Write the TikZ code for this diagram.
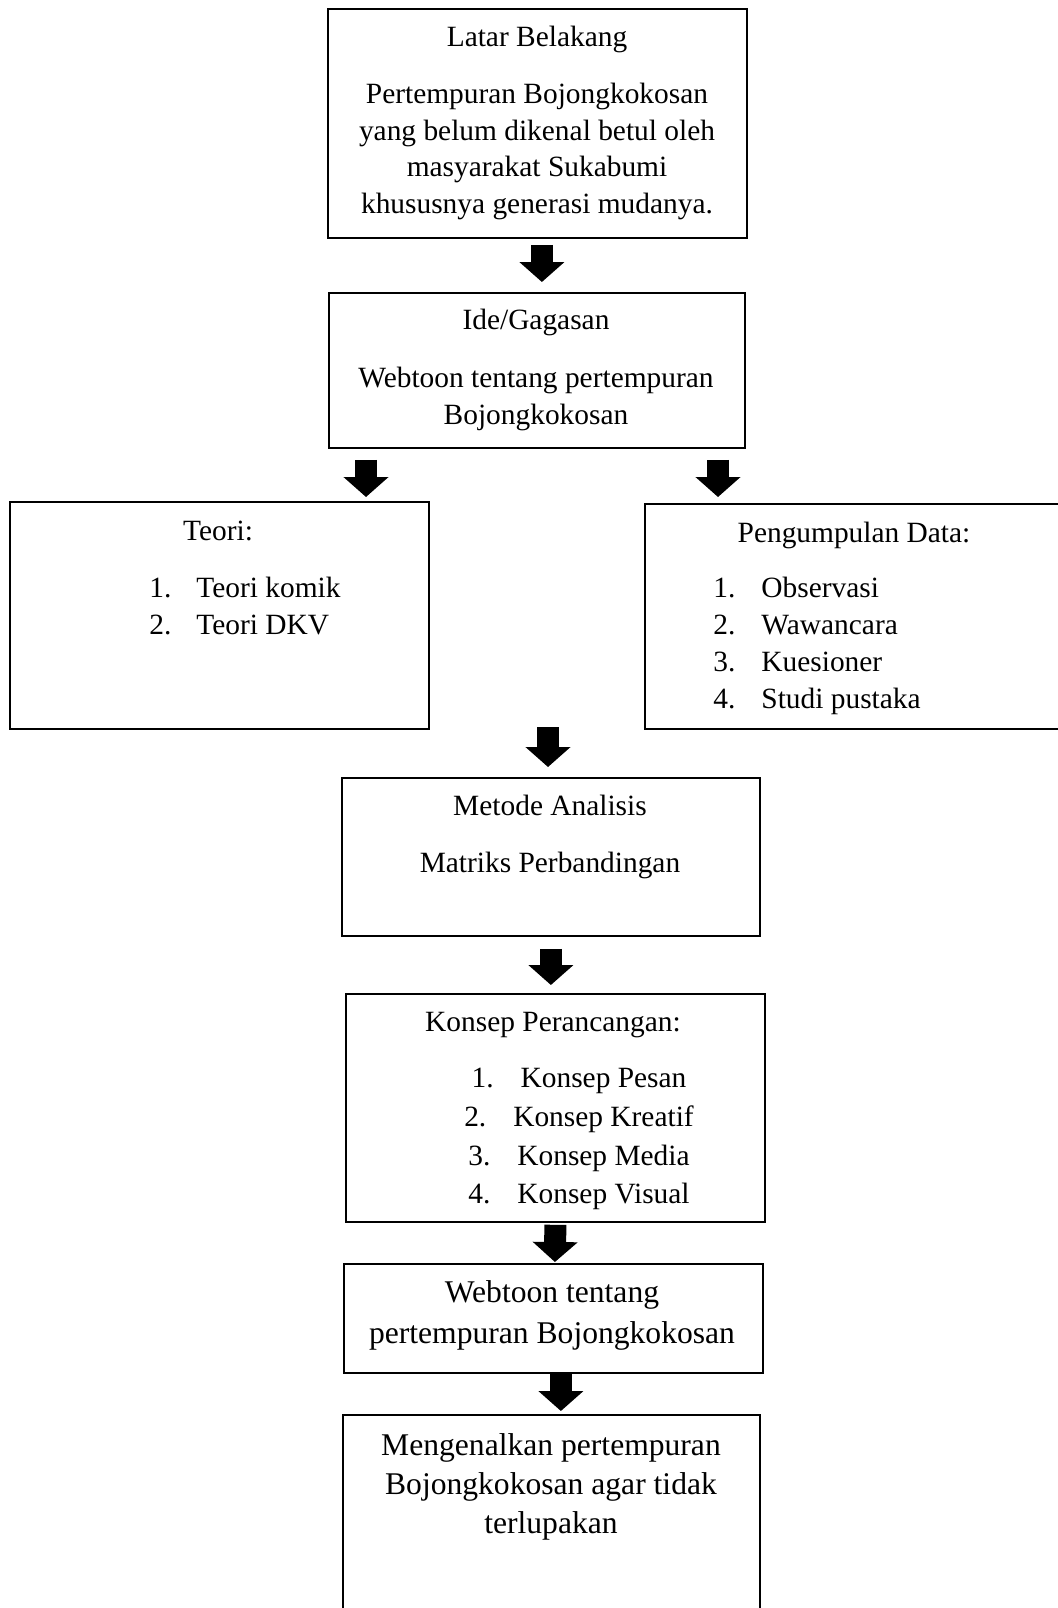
\documentclass[tikz,border=0pt]{standalone}
\usepackage{fontspec}
\setmainfont{Liberation Serif}
\usetikzlibrary{arrows.meta,positioning,calc}
\tikzset{kotak/.style={draw=black,line width=0.9pt,inner sep=0pt,anchor=north west}}

\begin{document}
\begin{tikzpicture}[x=0.5pt, y=-0.5pt,
        panah/.style={line width=11pt,-{Triangle[width=22pt,length=10pt]}},
        teks/.style={inner sep=0pt,anchor=north,align=center,font=\fontsize{14.7}{18.25}\selectfont},
        teksbesar/.style={teks,font=\fontsize{15.8}{20}\selectfont},
        daftar/.style={inner sep=0pt,anchor=north west,align=left,font=\fontsize{14.7}{18.4}\selectfont}]
        \useasboundingbox (0,0) rectangle (1057,1608);
        % kotak
        \node[kotak,minimum width=209.5pt,minimum height=114.5pt] (latar) at (327,8) {};
        \node[kotak,minimum width=208pt,minimum height=77.5pt] (ide) at (328,292) {};
        \node[kotak,minimum width=209.5pt,minimum height=113.5pt] (teori) at (9,501) {};
        \node[kotak,minimum width=209.5pt,minimum height=112.5pt] (data) at (644,503) {};
        \node[kotak,minimum width=209pt,minimum height=79pt] (metode) at (341,777) {};
        \node[kotak,minimum width=209.5pt,minimum height=114pt] (konsep) at (345,993) {};
        \node[kotak,minimum width=209.5pt,minimum height=54.5pt] (webtoon) at (343,1263) {};
        \node[kotak,minimum width=208.5pt,minimum height=110pt] (akhir) at (342,1414) {};
        % isi
        \node[teks] (latarisi) at (537,26) {Latar Belakang\\[10.25pt]Pertempuran Bojongkokosan\\yang belum dikenal betul oleh\\masyarakat Sukabumi\\khususnya generasi mudanya.};
        \node[teks] (ideisi) at (536,309) {Ide/Gagasan\\[10.75pt]Webtoon tentang pertempuran\\Bojongkokosan};
        \node[teks] (teorijudul) at (218,521) {Teori:};
        \node[daftar] (teoriisi) at (149,577) {1.\hspace{12.5pt}Teori komik\\2.\hspace{12.5pt}Teori DKV};
        \node[teks] (datajudul) at (854,522) {Pengumpulan Data:};
        \node[daftar] (dataisi) at (713,577) {1.\hspace{13pt}Observasi\\2.\hspace{13pt}Wawancara\\3.\hspace{13pt}Kuesioner\\4.\hspace{13pt}Studi pustaka};
        \node[teks] (metodeisi) at (550,795) {Metode Analisis\\[10.25pt]Matriks Perbandingan};
        \node[teks] (konsepjudul) at (553,1012) {Konsep Perancangan:};
        \node[teks,font=\fontsize{14.7}{19.35}\selectfont] (konsepisi) at (579,1068) {1.\hspace{13.5pt}Konsep Pesan\\2.\hspace{13.5pt}Konsep Kreatif\\3.\hspace{13.5pt}Konsep Media\\4.\hspace{13.5pt}Konsep Visual};
        \node[teksbesar,font=\fontsize{15.8}{20.5}\selectfont] (webtoonisi) at (552,1280) {Webtoon tentang\\pertempuran Bojongkokosan};
        \node[teksbesar,font=\fontsize{15.8}{19.5}\selectfont] (akhirisi) at (551,1433) {Mengenalkan pertempuran\\Bojongkokosan agar tidak\\terlupakan};
        % panah
        \coordinate (kiri) at (366,0);
        \coordinate (kanan) at (718,0);
        \coordinate (gabung) at (548,727);
        \draw[panah,shorten <=3pt,shorten >=5pt] ([xshift=2.25pt]latar.south) -- ([xshift=2.5pt]ide.north);
        \draw[panah,shorten <=5.5pt,shorten >=2pt] (ide.south -| kiri) -- (teori.north -| kiri);
        \draw[panah,shorten <=5.5pt,shorten >=3pt] (ide.south -| kanan) -- (data.north -| kanan);
        \draw[panah,shorten >=5pt] (gabung) -- (gabung |- metode.north);
        \draw[panah,shorten <=6pt,shorten >=4pt] (metode.south) -- ([xshift=-2.25pt]konsep.north);
        \draw[panah,shorten <=1pt,shorten >=0.5pt] (konsep.south) -- ([xshift=0.75pt]webtoon.north);
        \draw[panah,shorten >=1.5pt] ([xshift=3.75pt]webtoon.south) -- ([xshift=4.75pt]akhir.north);
\end{tikzpicture}
\end{document}
